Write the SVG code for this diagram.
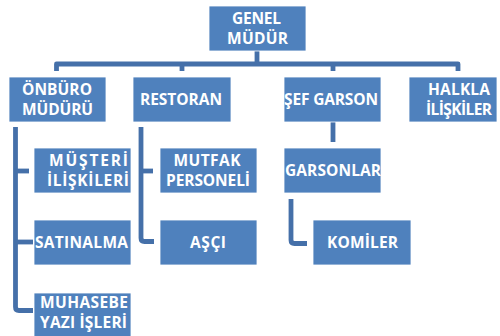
<svg xmlns="http://www.w3.org/2000/svg" width="500" height="336" viewBox="0 0 500 336">
<style>
.box{fill:#4f81bd;stroke:#ffffff;stroke-width:0.8}
.t{font-family:"Open Sans","Liberation Sans",sans-serif;font-weight:700;font-size:15.5px;fill:#ffffff;text-anchor:middle}
.c{fill:none;stroke:#4570a9;stroke-width:4.8;stroke-linejoin:round;stroke-linecap:butt}
</style>
<rect width="500" height="336" fill="#ffffff"/>
<g id="connectors">
<path class="c" d="M56.5,71 V64 H458 V71"/>
<path class="c" d="M257,51 V64"/>
<path class="c" d="M182,64 V71"/>
<path class="c" d="M333,64 V71"/>
<path class="c" d="M15.5,127 V307 Q15.5,310.5 19,310.5 H33"/>
<path class="c" d="M15.5,171 H29"/>
<path class="c" d="M15.5,242 H33"/>
<path class="c" d="M141,127 V238 Q141,241.5 144.5,241.5 H154"/>
<path class="c" d="M141,171 H153"/>
<path class="c" d="M333,122 V142"/>
<path class="c" d="M291,199 V240 Q291,243.5 294.5,243.5 H307"/>
</g>
<g id="genel-mudur">
<rect class="box" x="209" y="6" width="97" height="45"/>
<text class="t" x="256.5" y="23.5" textLength="49" lengthAdjust="spacing">GENEL</text>
<text class="t" x="257.5" y="43.5" textLength="61" lengthAdjust="spacing">MÜDÜR</text>
</g>
<g id="onburo-muduru">
<rect class="box" x="9" y="77" width="97" height="45"/>
<text class="t" x="57" y="94.5" textLength="70" lengthAdjust="spacing">ÖNBÜRO</text>
<text class="t" x="57.5" y="114.5" textLength="71" lengthAdjust="spacing">MÜDÜRÜ</text>
</g>
<g id="restoran">
<rect class="box" x="133" y="77" width="98" height="45"/>
<text class="t" x="181" y="104.5" textLength="82" lengthAdjust="spacing">RESTORAN</text>
</g>
<g id="sef-garson">
<rect class="box" x="284" y="77" width="97" height="45"/>
<text class="t" x="331" y="104.5" textLength="94" lengthAdjust="spacing">ŞEF GARSON</text>
</g>
<g id="halkla-iliskiler">
<rect class="box" x="409" y="77" width="88" height="45"/>
<text class="t" x="459" y="94.5" textLength="62" lengthAdjust="spacing">HALKLA</text>
<text class="t" x="459" y="114.5" textLength="66" lengthAdjust="spacing">İLİŞKİLER</text>
</g>
<g id="musteri-iliskileri">
<rect class="box" x="34" y="148" width="97" height="45"/>
<text class="t" x="88.5" y="165.5" textLength="79" lengthAdjust="spacing">MÜŞTERİ</text>
<text class="t" x="88" y="185.5" textLength="82" lengthAdjust="spacing">İLİŞKİLERİ</text>
</g>
<g id="satinalma">
<rect class="box" x="34" y="220" width="97" height="45"/>
<text class="t" x="81.5" y="247.5" textLength="93" lengthAdjust="spacing">SATINALMA</text>
</g>
<g id="muhasebe">
<rect class="box" x="34" y="293" width="97" height="50"/>
<text class="t" x="84" y="307.5" textLength="88" lengthAdjust="spacing">MUHASEBE</text>
<text class="t" x="83.5" y="327.5" textLength="87" lengthAdjust="spacing">YAZI İŞLERİ</text>
</g>
<g id="mutfak-personeli">
<rect class="box" x="160" y="148" width="97" height="45"/>
<text class="t" x="207" y="165.5" textLength="67" lengthAdjust="spacing">MUTFAK</text>
<text class="t" x="208" y="185.5" textLength="84" lengthAdjust="spacing">PERSONELİ</text>
</g>
<g id="asci">
<rect class="box" x="160" y="220" width="97" height="45"/>
<text class="t" x="208" y="247.5" textLength="36" lengthAdjust="spacing">AŞÇI</text>
</g>
<g id="garsonlar">
<rect class="box" x="284" y="148" width="97" height="45"/>
<text class="t" x="333" y="175.5" textLength="96" lengthAdjust="spacing">GARSONLAR</text>
</g>
<g id="komiler">
<rect class="box" x="313" y="220" width="98" height="45"/>
<text class="t" x="362.5" y="247.5" textLength="71" lengthAdjust="spacing">KOMİLER</text>
</g>
</svg>
